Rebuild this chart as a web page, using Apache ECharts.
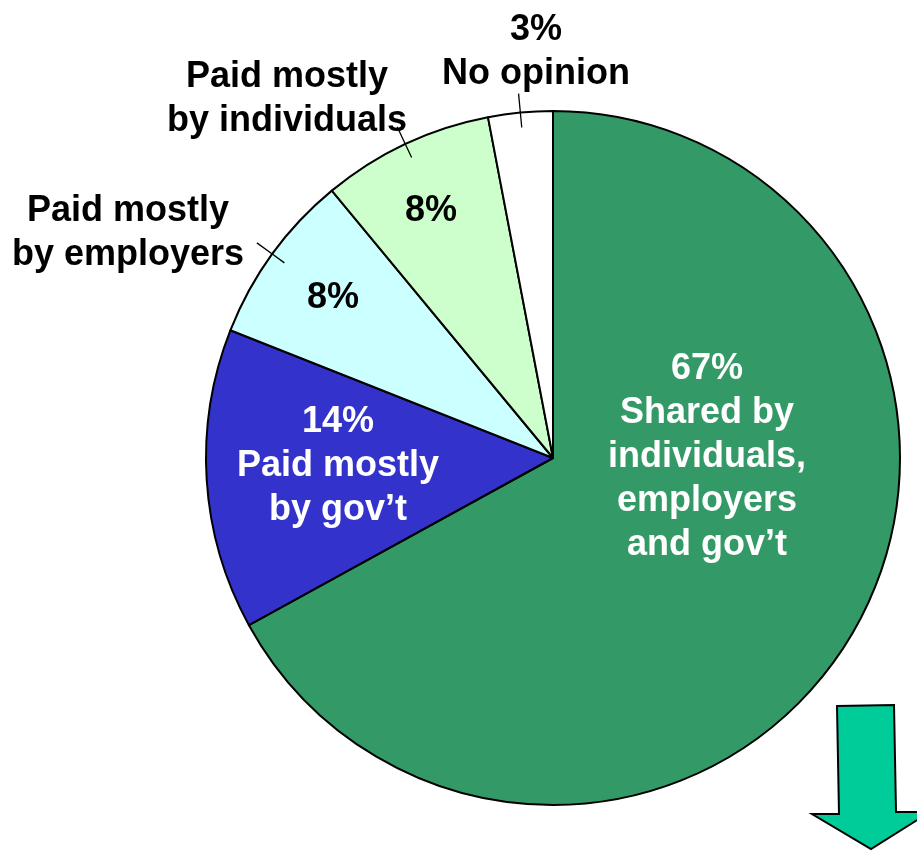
<!DOCTYPE html>
<html>
<head>
<meta charset="utf-8">
<script src="https://cdn.jsdelivr.net/npm/echarts@6/dist/echarts.min.js"></script>
<style>
  html, body { margin: 0; padding: 0; background: #ffffff; }
  #chart { width: 917px; height: 851px; }
</style>
</head>
<body>
<div id="chart"></div>
<script>
// Who should pay for health care — shares of responses (percent)
const categories = [
  "Shared by individuals, employers and gov’t",
  "Paid mostly by gov’t",
  "Paid mostly by employers",
  "Paid mostly by individuals",
  "No opinion"
];
const categoryLines = [
  ["Shared by", "individuals,", "employers", "and gov’t"],
  ["Paid mostly", "by gov’t"],
  ["Paid mostly", "by employers"],
  ["Paid mostly", "by individuals"],
  ["No opinion"]
];
const shares = [67, 14, 8, 8, 3];

// Styling
const sliceColors = ["#339966", "#3333CC", "#CCFFFF", "#CCFFCC", "#FFFFFF"];
const insideTextColors = ["#ffffff", "#ffffff", "#000000", "#000000", "#000000"];
// which parts of each label go inside the slice vs. outside with a tick
const insideShowsName = [true, true, false, false, false];
const insideShowsPct = [true, true, true, true, false];
const outsideShowsName = [false, false, true, true, true];
const outsideShowsPct = [false, false, false, false, true];
// label anchor points (px)
const insideLabelPos = [[707, 457], [338, 466], [333, 298], [431, 211], null];
const outsideLabelPos = [null, null, [128, 233], [287, 99], [536, 52]];

const FONT = '"Liberation Sans", Arial, Helvetica, sans-serif';
const CENTER = [553, 458];
const RADIUS = 347;

function pctText(i) { return shares[i] + '%'; }

function insideText(i) {
  const parts = [];
  if (insideShowsPct[i]) parts.push(pctText(i));
  if (insideShowsName[i]) parts.push(...categoryLines[i]);
  return parts.join('\n');
}
function outsideText(i) {
  const parts = [];
  if (outsideShowsPct[i]) parts.push(pctText(i));
  if (outsideShowsName[i]) parts.push(...categoryLines[i]);
  return parts.join('\n');
}

const baseData = categories.map((name, i) => ({ name: name, value: shares[i] }));

const innerData = baseData.map((d, i) => ({
  name: d.name,
  value: d.value,
  itemStyle: { color: sliceColors[i] },
  label: { show: insideShowsPct[i] || insideShowsName[i], color: insideTextColors[i] }
}));

const outerData = baseData.map((d, i) => ({
  name: d.name,
  value: d.value,
  label: { show: outsideShowsPct[i] || outsideShowsName[i] },
  labelLine: { show: outsideShowsPct[i] || outsideShowsName[i] }
}));

const chart = echarts.init(document.getElementById('chart'), null, { renderer: 'canvas' });

chart.setOption({
  backgroundColor: '#ffffff',
  animation: false,
  series: [
    {
      type: 'pie',
      center: CENTER,
      radius: RADIUS,
      startAngle: 90,
      clockwise: true,
      avoidLabelOverlap: false,
      silent: true,
      data: innerData,
      itemStyle: { borderColor: '#000000', borderWidth: 2 },
      label: {
        position: 'inside',
        formatter: p => insideText(p.dataIndex),
        fontFamily: FONT,
        fontWeight: 'bold',
        fontSize: 36,
        lineHeight: 44,
        align: 'center'
      },
      labelLine: { show: false },
      labelLayout: function (p) {
        const pos = insideLabelPos[p.dataIndex];
        if (!pos) return {};
        return { x: pos[0], y: pos[1], align: 'center', verticalAlign: 'middle' };
      }
    },
    {
      // transparent overlay carrying the outside labels and their ticks
      type: 'pie',
      z: 3,
      center: CENTER,
      radius: RADIUS,
      startAngle: 90,
      clockwise: true,
      avoidLabelOverlap: false,
      silent: true,
      data: outerData,
      itemStyle: { color: 'rgba(0,0,0,0)', borderWidth: 0 },
      label: {
        position: 'outside',
        formatter: p => outsideText(p.dataIndex),
        fontFamily: FONT,
        fontWeight: 'bold',
        fontSize: 36,
        lineHeight: 44,
        color: '#000000',
        align: 'center'
      },
      labelLine: {
        length: 20,
        length2: 4,
        lineStyle: { color: '#000000', width: 1.3 }
      },
      labelLayout: function (p) {
        const pos = outsideLabelPos[p.dataIndex];
        if (!pos) return {};
        const out = { x: pos[0], y: pos[1], align: 'center', verticalAlign: 'middle' };
        const pts = p.labelLinePoints;
        if (pts && pts.length >= 2) {
          // short tick straddling the rim along the slice's mid direction
          const a = pts[0], b = pts[1];
          const dx = b[0] - a[0], dy = b[1] - a[1];
          const len = Math.hypot(dx, dy) || 1;
          const ux = dx / len, uy = dy / len;
          const start = [a[0] - 15 * ux, a[1] - 15 * uy];
          const end = [a[0] + 19 * ux, a[1] + 19 * uy];
          out.labelLinePoints = [start, a, end];
        }
        return out;
      }
    }
  ],
  graphic: [
    {
      type: 'polygon',
      z: 10,
      shape: {
        points: [[837, 706], [894, 705], [896, 812], [930, 812], [871, 849], [812, 814], [839, 814]]
      },
      style: { fill: '#00CC99', stroke: '#000000', lineWidth: 2, lineJoin: 'miter' }
    }
  ]
});
</script>
</body>
</html>
